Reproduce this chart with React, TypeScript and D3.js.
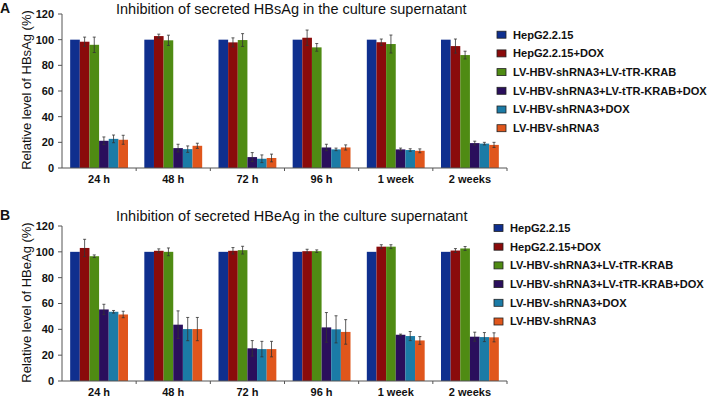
import React from "react";
import * as d3 from "d3";

const categories = ["24 h", "48 h", "72 h", "96 h", "1 week", "2 weeks"];
const seriesNames = [
  "HepG2.2.15",
  "HepG2.2.15+DOX",
  "LV-HBV-shRNA3+LV-tTR-KRAB",
  "LV-HBV-shRNA3+LV-tTR-KRAB+DOX",
  "LV-HBV-shRNA3+DOX",
  "LV-HBV-shRNA3",
];
const colors = ["#0f2f8e", "#8a0b0b", "#4f8b13", "#2a0f5c", "#1b7ba6", "#e0561c"];
const yTicks = [0, 20, 40, 60, 80, 100, 120];

// Panel A: HBsAg (rows = series, cols = categories)
const hbsMean = [
  [100, 100, 100, 100, 100, 100],
  [98.4, 102.8, 97.9, 101.5, 98, 95],
  [96, 99.5, 99.7, 94, 96.6, 88],
  [21.2, 15.5, 8.5, 16, 14.5, 19.4],
  [22.7, 14.7, 7.2, 14.5, 14, 19],
  [22, 17.3, 7.8, 16, 13.4, 18],
];
const hbsErr = [
  [0, 0, 0, 0, 0, 0],
  [3.6, 1.5, 3.5, 6, 2.5, 5.5],
  [6, 4, 5, 3, 7, 3],
  [3, 3, 3.5, 2.5, 1, 1.5],
  [3, 2.5, 3, 1, 1, 1],
  [3.5, 2, 3, 2, 1.5, 2],
];

// Panel B: HBeAg
const hbeMean = [
  [100, 100, 100, 100, 100, 100],
  [103, 100.8, 100.8, 100.5, 104, 101],
  [96.6, 100, 101.3, 100.5, 104, 102.6],
  [55.4, 43.6, 25.3, 41.5, 35.8, 34.3],
  [53.6, 40.2, 24.7, 40, 34.8, 34],
  [51.5, 40.2, 24.7, 38, 31.4, 33.8],
];
const hbeErr = [
  [0, 0, 0, 0, 0, 0],
  [6.7, 1.5, 2.5, 1.5, 1.5, 1.5],
  [1, 3, 3, 1, 1.5, 1.5],
  [4, 10.7, 6, 11.5, 0.5, 3.5],
  [1, 9, 6, 10.5, 3.5, 3.5],
  [2.5, 9, 6, 9.5, 3, 3.5],
];

const FONT = "Liberation Sans, Arial, Helvetica, sans-serif";

type PanelProps = {
  letter: string;
  title: string;
  yLabel: string;
  mean: number[][];
  err: number[][];
  top: number; // y of 120
  bottom: number; // y of 0
  titleY: number;
  legendY: number;
  legendX: number;
};

function Panel({ letter, title, yLabel, mean, err, top, bottom, titleY, legendY, legendX }: PanelProps) {
  const x0 = d3.scaleBand<string>().domain(categories).range([62, 507]).paddingInner(0.22).paddingOuter(0.11);
  const x1 = d3.scaleBand<string>().domain(seriesNames).range([0, x0.bandwidth()]).padding(0);
  const y = d3.scaleLinear().domain([0, 120]).range([bottom, top]);
  const step = x0.step();
  const axisColor = "#555";
  return (
    <g>
      <text x={0} y={titleY - 1} fontFamily={FONT} fontWeight="bold" fontSize={14} fill="#111">
        {letter}
      </text>
      <text x={116} y={titleY} fontFamily={FONT} fontSize={14.5} fill="#111">
        {title}
      </text>
      <text
        transform={`translate(31,${(top + bottom) / 2 - 1}) rotate(-90)`}
        textAnchor="middle"
        fontFamily={FONT}
        fontSize={13}
        fill="#111"
      >
        {yLabel}
      </text>
      {/* y axis */}
      <line x1={62} x2={62} y1={y(120)} y2={y(0)} stroke={axisColor} strokeWidth={1} />
      {yTicks.map((t) => (
        <g key={t}>
          <line x1={58} x2={62} y1={y(t)} y2={y(t)} stroke={axisColor} />
          <text
            x={54}
            y={y(t)}
            dy="0.35em"
            textAnchor="end"
            fontFamily={FONT}
            fontWeight="bold"
            fontSize={11}
            fill="#111"
          >
            {t}
          </text>
        </g>
      ))}
      {/* bars */}
      {categories.map((c, ci) => (
        <g key={c} transform={`translate(${x0(c)},0)`}>
          {seriesNames.map((s, si) => {
            const v = mean[si][ci];
            return (
              <rect
                key={s}
                x={x1(s)}
                y={y(v)}
                width={x1.bandwidth()}
                height={y(0) - y(v)}
                fill={colors[si]}
              />
            );
          })}
          {seriesNames.map((s, si) => {
            const v = mean[si][ci];
            const e = err[si][ci];
            if (!e) return null;
            const cx = (x1(s) as number) + x1.bandwidth() / 2;
            return (
              <g key={s + "e"} stroke="#333" strokeWidth={0.8}>
                <line x1={cx} x2={cx} y1={y(v + e)} y2={y(v - e)} />
                <line x1={cx - 1.5} x2={cx + 1.5} y1={y(v + e)} y2={y(v + e)} />
                <line x1={cx - 1.5} x2={cx + 1.5} y1={y(v - e)} y2={y(v - e)} />
              </g>
            );
          })}
          <text
            x={x0.bandwidth() / 2}
            y={bottom + 15}
            textAnchor="middle"
            fontFamily={FONT}
            fontWeight="bold"
            fontSize={11}
            fill="#111"
          >
            {c}
          </text>
        </g>
      ))}
      {/* x axis */}
      <line x1={62} x2={507} y1={y(0)} y2={y(0)} stroke={axisColor} strokeWidth={1} />
      {d3.range(1, categories.length + 1).map((i) => (
        <line
          key={i}
          x1={62 + i * step}
          x2={62 + i * step}
          y1={y(0)}
          y2={y(0) + 3}
          stroke={axisColor}
        />
      ))}
      {/* legend */}
      {seriesNames.map((s, si) => (
        <g key={s} transform={`translate(${legendX},${legendY + si * 18.7})`}>
          <rect x={0} y={-3.5} width={9} height={7} fill={colors[si]} stroke="#222" strokeWidth={0.8} />
          <text x={16} y={0} dy="0.35em" fontFamily={FONT} fontWeight="bold" fontSize={11.1} fill="#111">
            {s}
          </text>
        </g>
      ))}
    </g>
  );
}

export default function App() {
  return (
    <svg
      width={709}
      height={400}
      style={{ position: "absolute", left: 0, top: 0, background: "#fff", display: "block" }}
    >
      <rect width={709} height={400} fill="#fff" />
      <Panel
        letter="A"
        title="Inhibition of secreted HBsAg in the culture supernatant"
        yLabel="Relative level of HBsAg (%)"
        mean={hbsMean}
        err={hbsErr}
        top={14}
        bottom={168}
        titleY={14}
        legendY={34.7}
        legendX={497}
      />
      <Panel
        letter="B"
        title="Inhibition of secreted HBeAg in the culture supernatant"
        yLabel="Relative level of HBeAg (%)"
        mean={hbeMean}
        err={hbeErr}
        top={226}
        bottom={381}
        titleY={221}
        legendY={228}
        legendX={494}
      />
    </svg>
  );
}
